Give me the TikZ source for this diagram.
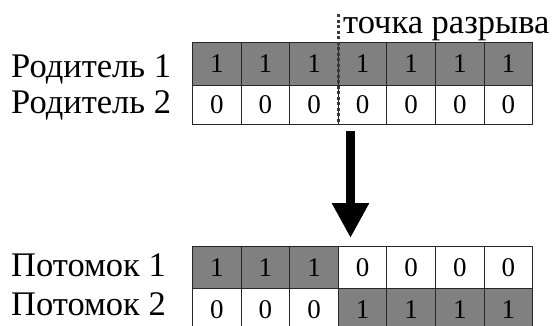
\documentclass[tikz,border=0pt]{standalone}
\usepackage{fontspec}
\newfontfamily\serfam{Liberation Serif}
\usetikzlibrary{arrows.meta}
\definecolor{cellgray}{gray}{0.5}
\definecolor{linecol}{gray}{0.15}
\begin{document}
\begin{tikzpicture}[x=1pt,y=-1pt,
  lbl/.style={anchor=base west, inner sep=0pt},
  cellbox/.style={draw=linecol, line width=1pt, minimum width=48.6pt, inner sep=0pt,
    text height=18pt, text depth=0pt},
  dk/.style={cellbox, fill=cellgray},
  lt/.style={cellbox, fill=white},
  cutline/.style={draw=gray!45!black, line width=3pt, dash pattern=on 3pt off 2.5pt},
  bigarrow/.style={-{Triangle[width=35pt,length=35pt]}, line width=9.5pt, black}
]
\newcommand\lbltext[1]{\fontsize{34.5}{40}\selectfont\serfam #1}
\newcommand\digtext[1]{\fontsize{27}{32}\selectfont\serfam #1}
\useasboundingbox (0,0) rectangle (555,325);
\fill[white] (0,0) rectangle (555,325);

% labels
\node[lbl] (lp1) at (11,77) {\lbltext{Родитель 1}};
\node[lbl] (lp2) at (11,113) {\lbltext{Родитель 2}};
\node[lbl] (lc1) at (11,276) {\lbltext{Потомок 1}};
\node[lbl] (lc2) at (11,315) {\lbltext{Потомок 2}};

% parent 1 (all 1, gray)
\foreach \k in {1,...,7} {
  \node[dk, minimum height=42.3pt] (pa\k) at ({192.5+48.6*(\k-0.5)},63.85) {\digtext{1}};
}
% parent 2 (all 0, white)
\foreach \k in {1,...,7} {
  \node[lt, minimum height=39.3pt] (pb\k) at ({192.5+48.6*(\k-0.5)},104.65) {\digtext{0}};
}
% child 1
\foreach \k in {1,2,3} {
  \node[dk, minimum height=42pt] (ca\k) at ({192.5+48.6*(\k-0.5)},267) {\digtext{1}};
}
\foreach \k in {4,...,7} {
  \node[lt, minimum height=42pt] (ca\k) at ({192.5+48.6*(\k-0.5)},267) {\digtext{0}};
}
% child 2
\foreach \k in {1,2,3} {
  \node[lt, minimum height=42pt] (cb\k) at ({192.5+48.6*(\k-0.5)},309) {\digtext{0}};
}
\foreach \k in {4,...,7} {
  \node[dk, minimum height=42pt] (cb\k) at ({192.5+48.6*(\k-0.5)},309) {\digtext{1}};
}

% crossover point
\coordinate (cuttop) at (pa3.north east |- 0,14);
\draw[cutline] (cuttop) -- (pb3.south east);
\node[lbl] (cutlbl) at (343,33) {\lbltext{точка разрыва}};

% arrow
\coordinate (atop) at (350.5,131);
\coordinate (atip) at (350.5,238);
\draw[bigarrow] (atop) -- (atip);
\end{tikzpicture}
\end{document}
